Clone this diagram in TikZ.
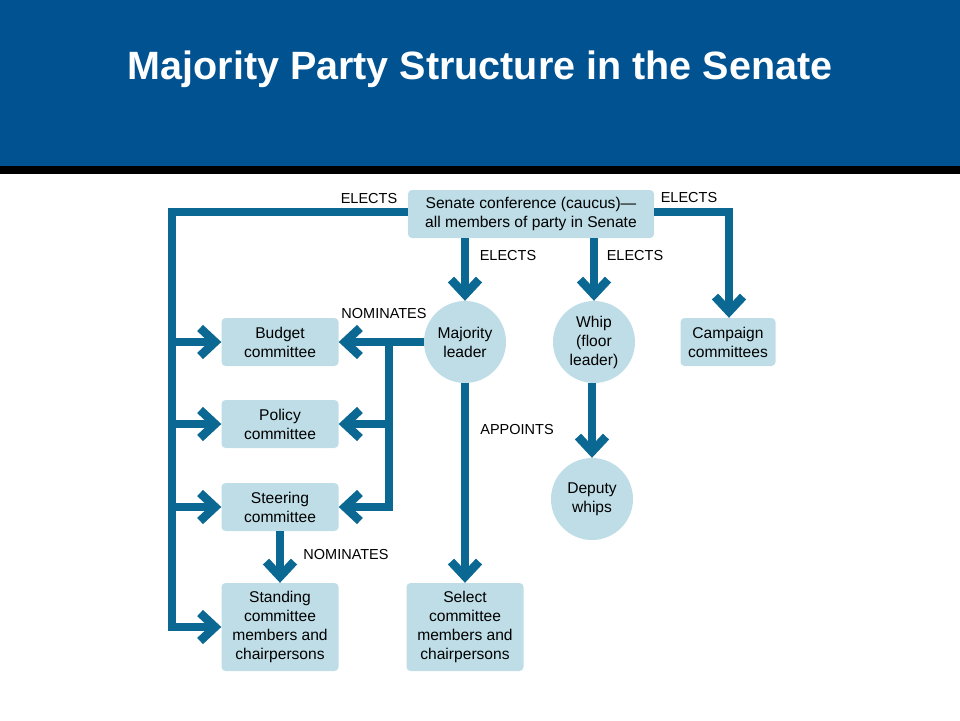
\documentclass[tikz,border=0pt]{standalone}
\usepackage{fontspec}
\setmainfont{Liberation Sans}
\usetikzlibrary{arrows.meta}
\definecolor{hdr}{RGB}{0,82,145}
\definecolor{linec}{RGB}{10,104,146}
\definecolor{boxc}{RGB}{190,221,231}
\tikzset{
  x=1pt, y=-1pt,
  box/.style={fill=boxc, rounded corners=4pt, align=center, inner sep=0pt,
    font=\fontsize{15.6}{19}\selectfont},
  circ/.style={circle, fill=boxc, minimum size=82pt, inner sep=0pt, align=center,
    font=\fontsize{15.6}{19}\selectfont},
  conn/.style={line width=8.5pt, draw=linec, line join=miter},
  arr/.style={conn, -{Straight Barb[length=15pt,width=28pt,sharp]}},
  lbl/.style={font=\fontsize{14.5}{16}\selectfont, inner sep=0pt},
}
\begin{document}
\begin{tikzpicture}
\useasboundingbox (0,0) rectangle (960,720);
\fill[hdr] (0,0) rectangle (960,166);
\fill[black] (0,166) rectangle (960,174);
\node[text=white, font=\bfseries\fontsize{39.5}{44}\selectfont] (title) at (480,69) {Majority Party Structure in the Senate};

\node[box, minimum width=246pt, minimum height=48pt] (caucus) at (531,214) {Senate conference (caucus)---\\all members of party in Senate};
\node[circ] (ml) at (465,342) {Majority\\leader};
\node[circ] (whip) at (594,342) {Whip\\(floor\\leader)};
\node[box, minimum width=95pt, minimum height=48pt] (camp) at (728,342) {Campaign\\committees};
\node[box, minimum width=117pt, minimum height=48pt] (budget) at (280,342) {Budget\\committee};
\node[box, minimum width=117pt, minimum height=48pt] (policy) at (280,424) {Policy\\committee};
\node[box, minimum width=117pt, minimum height=48pt] (steer) at (280,507) {Steering\\committee};
\node[box, minimum width=117pt, minimum height=88pt] (stand) at (280,627) {Standing\\committee\\members and\\chairpersons};
\node[box, minimum width=117pt, minimum height=88pt] (select) at (465,627) {Select\\committee\\members and\\chairpersons};
\node[circ] (dep) at (592,499) {Deputy\\whips};

\coordinate (tl) at (172,212);
\coordinate (tr) at (729,212);
\coordinate (mv) at (389,342);

% left trunk
\draw[arr] (caucus.west |- tl) -- (tl) |- (stand.west);
\draw[arr] (tl |- budget) -- (budget.west);
\draw[arr] (tl |- policy) -- (policy.west);
\draw[arr] (tl |- steer) -- (steer.west);
% right
\draw[arr] (caucus.east |- tr) -- (tr) -- (tr |- camp.north);
% elects down
\draw[arr] (caucus.south -| ml) -- (ml.north);
\draw[arr] (caucus.south -| whip) -- (whip.north);
% majority leader nominates
\draw[arr] (ml.west) -- (budget.east);
\draw[arr] (mv) |- (steer.east);
\draw[arr] (mv |- policy) -- (policy.east);
% appoints
\draw[arr] (ml.south) -- (select.north);
% whip to deputy
\draw[arr] (whip.south -| dep) -- (dep.north);
% steering nominates standing
\draw[arr] (steer.south) -- (stand.north);

\node[lbl] (l1) at (369,199) {ELECTS};
\node[lbl] (l2) at (689,198) {ELECTS};
\node[lbl] (l3) at (508,256) {ELECTS};
\node[lbl] (l4) at (635,256) {ELECTS};
\node[lbl] (l5) at (384,314) {NOMINATES};
\node[lbl] (l6) at (517,430) {APPOINTS};
\node[lbl] (l7) at (346,554) {NOMINATES};
\end{tikzpicture}
\end{document}
